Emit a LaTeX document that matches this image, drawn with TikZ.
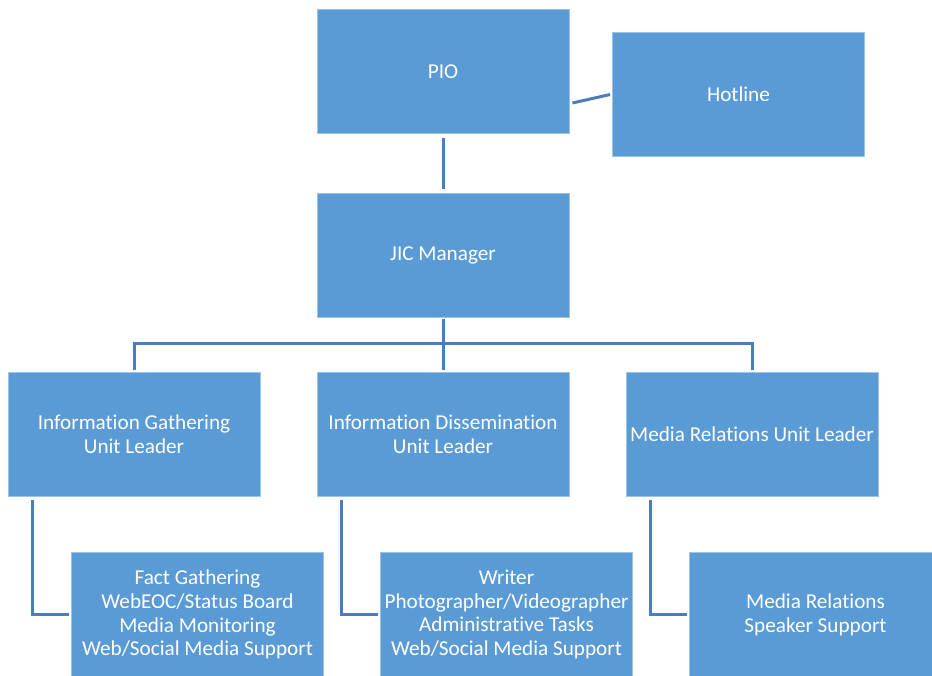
\documentclass[tikz,border=0pt]{standalone}
\usepackage{fontspec}
\setmainfont[Ligatures=NoCommon]{Carlito}
\definecolor{boxblue}{HTML}{5B9BD5}
\definecolor{boxedge}{HTML}{9DC3E6}
\definecolor{linkblue}{HTML}{4A7EBB}
\begin{document}
\begin{tikzpicture}[x=1pt,y=-1pt,
  unit/.style={draw=boxedge,line width=0.8pt,fill=boxblue,text=white,
    minimum width=252pt,minimum height=124pt,inner sep=0pt,align=center,
    font=\fontsize{21.2}{23.7}\selectfont},
  conn/.style={draw=linkblue,line width=3pt}]
\useasboundingbox (0,0) rectangle (932,675);
% top level
\node[unit] (pio) at (443,71.5) {PIO};
\node[unit] (hot) at (738.5,94.5) {Hotline};
\node[unit] (jic) at (443,255.5) {JIC Manager};
% unit leaders
\node[unit] (igu) at (134,434) {Information Gathering\\Unit Leader};
\node[unit] (idu) at (443,434) {Information Dissemination\\Unit Leader};
\node[unit] (mru) at (752,434) {Media Relations Unit Leader};
% staff boxes
\node[unit] (fact) at (197.5,614.5) {Fact Gathering\\WebEOC/Status Board\\Media Monitoring\\Web/Social Media Support};
\node[unit] (writ) at (506.5,614.5) {Writer\\Photographer/Videographer\\Administrative Tasks\\Web/Social Media Support};
\node[unit] (mrs) at (815.5,614.5) {Media Relations\\Speaker Support};
% connectors
\coordinate (bus) at (443,343);
\draw[conn] ([shift={(3pt,-31.5pt)}]pio.east) -- ([xshift=-2pt]hot.west);
\draw[conn] ([yshift=-4pt]pio.south) -- ([yshift=4pt]jic.north);
\draw[conn] ([yshift=-1pt]jic.south) -- (bus);
\draw[conn] ([yshift=2pt]igu.north) |- (mru.north |- bus) -- ([yshift=2pt]mru.north);
\draw[conn] (bus) -- ([yshift=2pt]idu.north);
\draw[conn] ([shift={(25pt,-4pt)}]igu.south west) |- ([xshift=-2pt]fact.west);
\draw[conn] ([shift={(25pt,-4pt)}]idu.south west) |- ([xshift=-2pt]writ.west);
\draw[conn] ([shift={(25pt,-4pt)}]mru.south west) |- ([xshift=-2pt]mrs.west);
\end{tikzpicture}
\end{document}
